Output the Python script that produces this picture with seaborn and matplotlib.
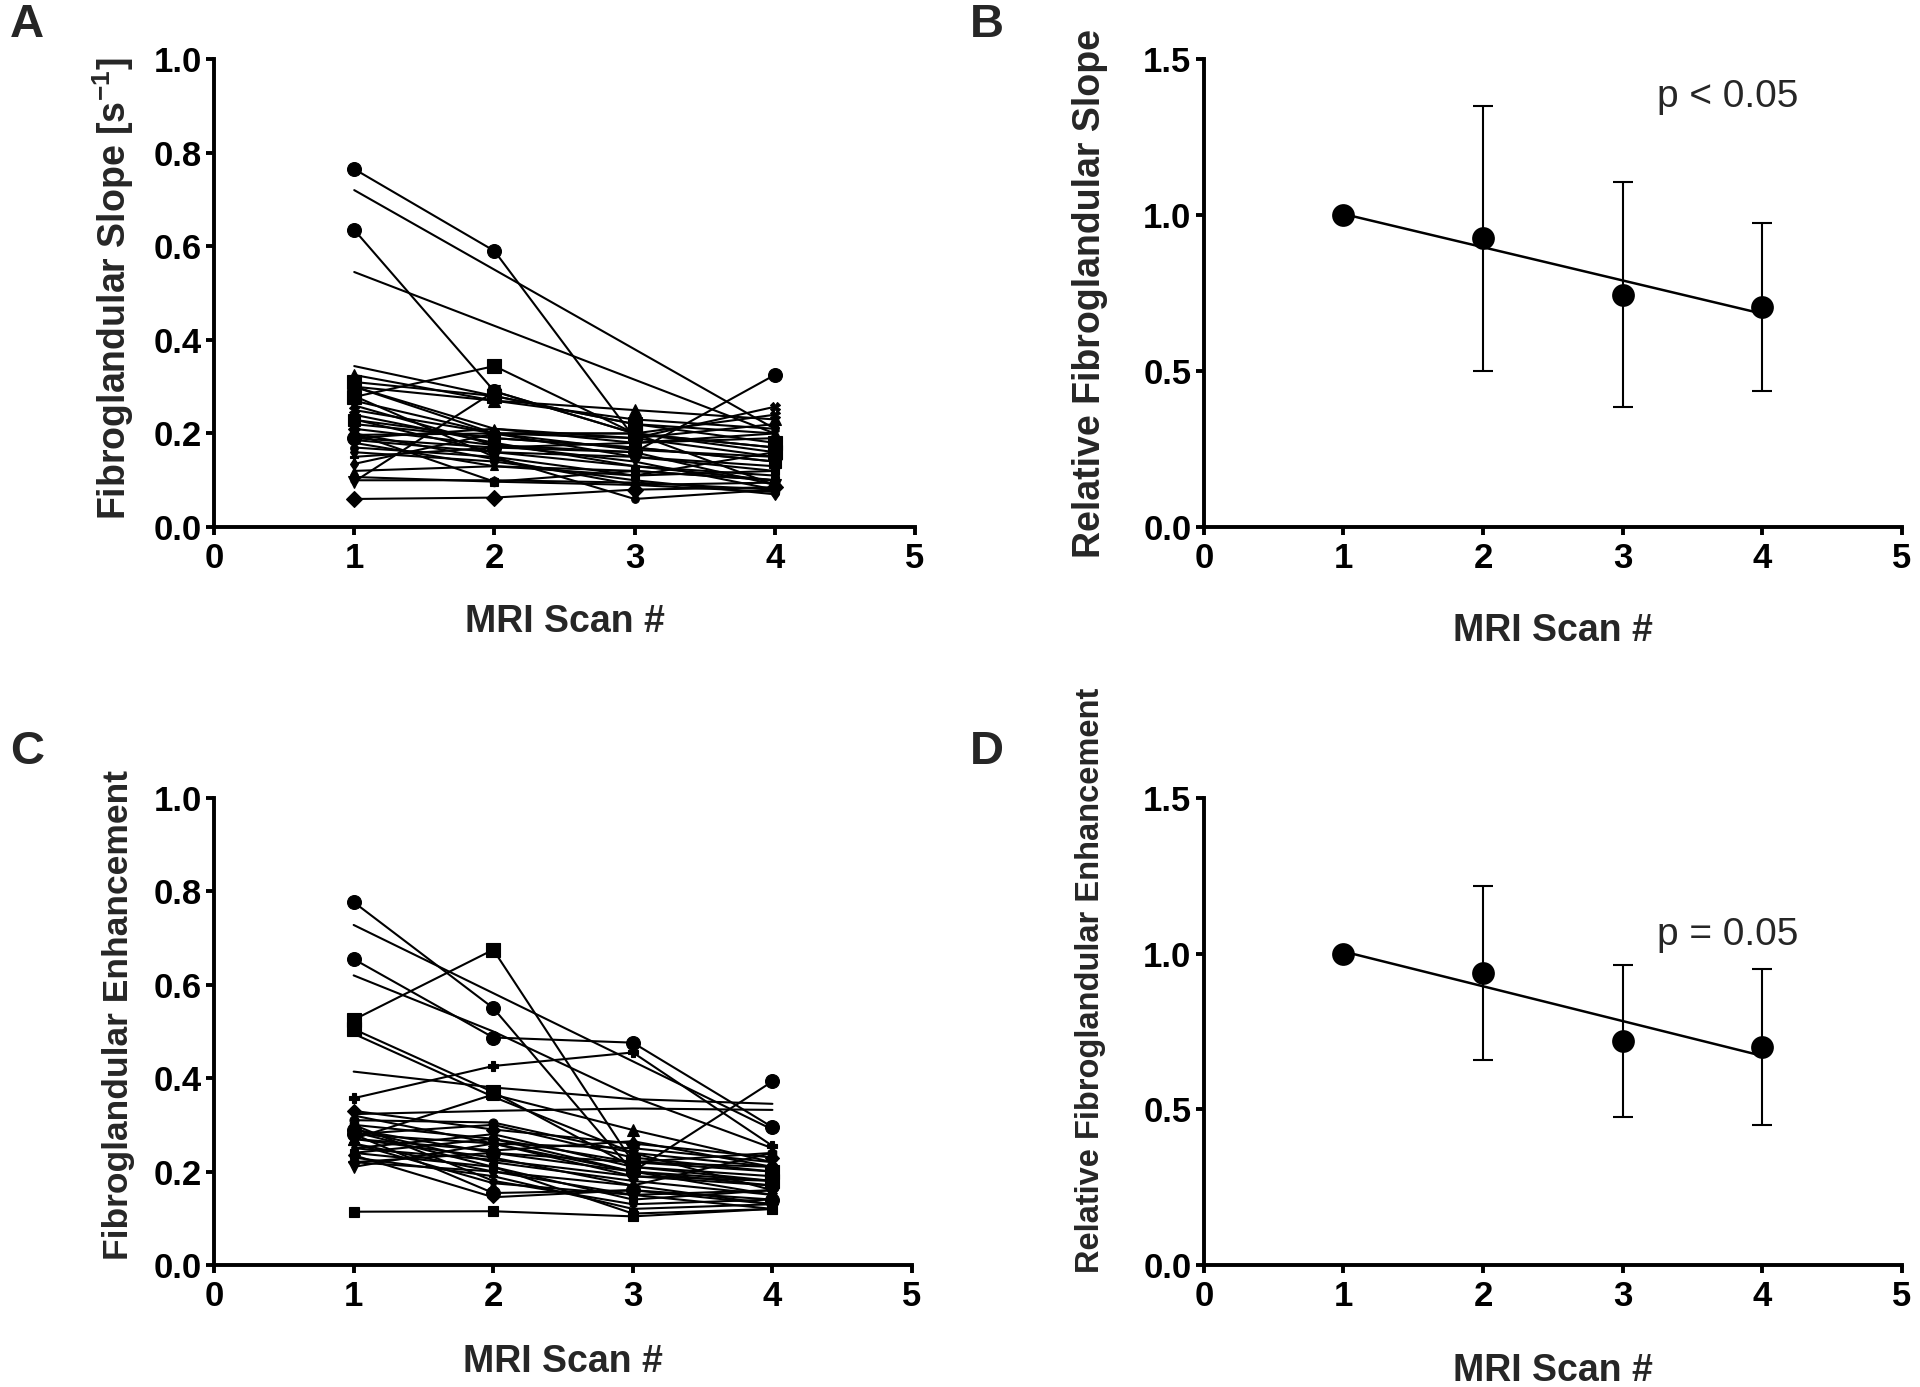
import numpy as np
import pandas as pd
import matplotlib
matplotlib.use("Agg")
import matplotlib.pyplot as plt
import seaborn as sns

nan = np.nan
scans = [1, 2, 3, 4]

# Panel A: fibroglandular slope per subject, one list per scan
slope_scan1 = [0.765, 0.72, 0.635, 0.545, 0.19, 0.31, 0.278, 0.229, 0.344, 0.325, 0.30, 0.097,
               0.06, 0.135, 0.107, 0.20, 0.197, 0.186, 0.25, 0.22, 0.24, 0.17, 0.21, 0.19,
               0.26, 0.30, 0.28, 0.16, 0.23, 0.18, 0.27, 0.20, 0.15, 0.12, 0.10, 0.30]
slope_scan2 = [0.59, nan, 0.29, nan, 0.17, 0.28, 0.344, 0.19, 0.28, 0.27, 0.21, 0.29,
               0.063, 0.20, 0.097, 0.097, 0.20, 0.16, 0.20, 0.19, 0.18, 0.15, 0.175, 0.21,
               0.175, 0.27, 0.15, 0.14, 0.16, 0.13, 0.20, 0.145, 0.17, 0.13, 0.10, 0.20]
slope_scan3 = [0.19, nan, 0.20, nan, 0.16, 0.22, 0.20, 0.17, 0.22, 0.25, 0.18, 0.20,
               0.08, 0.15, 0.09, 0.12, 0.20, 0.15, 0.19, 0.17, 0.13, 0.06, 0.16, 0.19,
               0.14, 0.23, 0.11, 0.10, 0.13, 0.12, 0.165, 0.09, 0.18, 0.11, 0.095, 0.20]
slope_scan4 = [0.15, 0.21, 0.17, 0.20, 0.325, 0.18, 0.16, 0.14, 0.20, 0.23, 0.20, 0.09,
               0.085, 0.12, 0.075, 0.10, 0.17, 0.13, 0.257, 0.14, 0.10, 0.08, 0.09, 0.22,
               0.08, 0.21, 0.12, 0.07, 0.11, 0.10, 0.15, 0.095, 0.19, 0.16, 0.08, 0.24]

# Panel C: fibroglandular enhancement per subject
enh_scan1 = [0.777, 0.728, 0.655, 0.62, 0.525, 0.505, 0.495, 0.414, 0.357, 0.323, 0.114, 0.29,
             0.27, 0.31, 0.28, 0.21, 0.33, 0.30, 0.29, 0.28, 0.27, 0.26, 0.25, 0.24,
             0.23, 0.22, 0.32, 0.30, 0.28, 0.26, 0.25, 0.24, 0.235, 0.285, 0.27, 0.22]
enh_scan2 = [0.55, nan, 0.487, 0.50, 0.675, 0.37, 0.36, 0.38, 0.426, 0.33, 0.115, 0.24,
             0.365, 0.305, 0.154, 0.26, 0.29, 0.27, 0.22, 0.26, 0.23, 0.20, 0.28, 0.21,
             0.19, 0.24, 0.26, 0.18, 0.30, 0.175, 0.225, 0.27, 0.145, 0.21, 0.245, 0.20]
enh_scan3 = [0.20, nan, 0.476, 0.36, 0.22, 0.21, 0.24, 0.355, 0.455, 0.335, 0.104, 0.20,
             0.289, 0.24, 0.16, 0.20, 0.26, 0.22, 0.18, 0.25, 0.17, 0.15, 0.21, 0.14,
             0.12, 0.22, 0.19, 0.13, 0.23, 0.15, 0.19, 0.20, 0.16, 0.11, 0.265, 0.17]
enh_scan4 = [0.17, 0.29, 0.295, 0.25, 0.20, 0.18, 0.16, 0.345, 0.255, 0.332, 0.12, 0.393,
             0.22, 0.21, 0.14, 0.18, 0.23, 0.24, 0.15, 0.22, 0.13, 0.12, 0.19, 0.16,
             0.13, 0.21, 0.17, 0.14, 0.20, 0.16, 0.18, 0.15, 0.13, 0.12, 0.21, 0.24]

# Panels B and D: group mean and SD relative to scan 1
rel_slope_mean = [1.0, 0.925, 0.745, 0.705]
rel_slope_sd = [0.0, 0.425, 0.36, 0.27]
rel_enh_mean = [1.0, 0.937, 0.72, 0.70]
rel_enh_sd = [0.0, 0.28, 0.245, 0.25]

sns.set_style("ticks")
plt.rcParams["font.family"] = ["Liberation Sans", "DejaVu Sans"]
plt.rcParams["font.weight"] = "bold"
plt.rcParams["mathtext.fontset"] = "custom"
plt.rcParams["mathtext.rm"] = "Liberation Sans:bold"
plt.rcParams["mathtext.bf"] = "Liberation Sans:bold"

# symbol cycle similar to GraphPad defaults
A_SYM = [("o", 10), ("", 0), ("o", 10), ("", 0), ("o", 10), ("s", 10), ("s", 10), ("s", 8),
         ("", 0), ("^", 8), ("^", 7), ("v", 8), ("D", 8), ("d", 6), ("o", 6), ("s", 6),
         ("h", 7), ("o", 7), ("X", 7), ("*", 8), ("P", 6), ("o", 5.5), ("D", 6), ("^", 6),
         ("v", 6), ("h", 6), ("s", 5.5), ("d", 6), (".", 7), (".", 6), ("*", 7), ("o", 6),
         ("P", 6), ("^", 5.5), ("h", 5.5), ("X", 7)]

C_SYM = [("o", 10), ("", 0), ("o", 10), ("", 0), ("s", 10), ("s", 10), ("", 0), ("", 0),
         ("P", 7), ("", 0), ("s", 6.5), ("o", 10), ("^", 9), ("o", 6.5), ("o", 10), ("v", 9),
         ("D", 7), ("h", 7), ("*", 8), ("X", 7), ("d", 6), (".", 7), ("^", 6), ("s", 5.5),
         ("P", 6), ("D", 6), ("v", 6), ("h", 5.5), ("o", 6), ("*", 7), (".", 6), ("X", 6),
         ("D", 6), ("s", 5.5), ("^", 8), ("d", 6)]

fig = plt.figure(figsize=(19.2, 13.87), dpi=100)
axA = fig.add_axes([0.1115, 0.620, 0.365, 0.3374])
axB = fig.add_axes([0.627, 0.620, 0.3635, 0.3374])
axC = fig.add_axes([0.1115, 0.088, 0.3635, 0.3367])
axD = fig.add_axes([0.627, 0.088, 0.3635, 0.3367])


def spaghetti(ax, cols, syms):
    df = pd.DataFrame({"s1": cols[0], "s2": cols[1], "s3": cols[2], "s4": cols[3]})
    for i, row in df.iterrows():
        d = pd.DataFrame({"scan": scans, "val": row.values}).dropna()
        m, ms = syms[i]
        sns.lineplot(data=d, x="scan", y="val", ax=ax, color="black", lw=1.5,
                     marker=m if m else None, markersize=ms, markeredgecolor="black",
                     markeredgewidth=0.8, sort=False)


def summary(ax, mean, sd):
    d = pd.DataFrame({"scan": scans, "mean": mean, "sd": sd})
    sns.regplot(data=d, x="scan", y="mean", ax=ax, ci=None, scatter=False,
                line_kws={"color": "black", "lw": 1.8})
    eb = d[d["sd"] > 0]
    ax.errorbar(eb["scan"], eb["mean"], yerr=eb["sd"], fmt="none", ecolor="black",
                elinewidth=1.5, capsize=7, capthick=1.5)
    sns.scatterplot(data=d, x="scan", y="mean", ax=ax, color="black", s=230,
                    edgecolor="black", zorder=5)


spaghetti(axA, [slope_scan1, slope_scan2, slope_scan3, slope_scan4], A_SYM)
spaghetti(axC, [enh_scan1, enh_scan2, enh_scan3, enh_scan4], C_SYM)
summary(axB, rel_slope_mean, rel_slope_sd)
summary(axD, rel_enh_mean, rel_enh_sd)

for ax in [axA, axC]:
    ax.set_ylim(0, 1.0)
    ax.set_yticks(np.arange(0, 1.01, 0.2))
    ax.set_yticklabels(["0.0", "0.2", "0.4", "0.6", "0.8", "1.0"])
for ax in [axB, axD]:
    ax.set_ylim(0, 1.5)
    ax.set_yticks([0, 0.5, 1.0, 1.5])
    ax.set_yticklabels(["0.0", "0.5", "1.0", "1.5"])

for ax in [axA, axB, axC, axD]:
    ax.set_xlim(0, 5)
    ax.set_xticks(range(6))
    ax.set_xticklabels([str(i) for i in range(6)])
    for s in ["top", "right"]:
        ax.spines[s].set_visible(False)
    for s in ["left", "bottom"]:
        ax.spines[s].set_linewidth(2.8)
        ax.spines[s].set_color("black")
    ax.tick_params(axis="both", width=2.8, length=6, labelsize=25, color="black",
                   labelcolor="black")
    ax.tick_params(axis="y", pad=3)
    ax.tick_params(axis="x", pad=5)
    for lab in ax.get_xticklabels() + ax.get_yticklabels():
        lab.set_fontweight("bold")
    ax.set_xlabel("MRI Scan #", fontsize=27, fontweight="bold")
    ax.patch.set_alpha(0)

axA.set_ylabel(r"Fibroglandular Slope [s$^{\mathbf{-1}}$]", fontsize=27, fontweight="bold")
axB.set_ylabel("Relative Fibroglandular Slope", fontsize=27, fontweight="bold")
axC.set_ylabel("Fibroglandular Enhancement", fontsize=25.5, fontweight="bold")
axD.set_ylabel("Relative Fibroglandular Enhancement", fontsize=23.5, fontweight="bold")

axA.yaxis.set_label_coords(-0.111, 0.51)
axB.yaxis.set_label_coords(-0.137, 0.5)
axC.yaxis.set_label_coords(-0.113, 0.535)
axD.yaxis.set_label_coords(-0.14, 0.61)
axA.xaxis.set_label_coords(0.5, -0.165)
axB.xaxis.set_label_coords(0.5, -0.184)
axC.xaxis.set_label_coords(0.5, -0.17)
axD.xaxis.set_label_coords(0.5, -0.189)

axB.text(3.245, 1.38, "p < 0.05", fontsize=28, fontweight="normal", ha="left", va="center")
axD.text(3.245, 1.06, "p = 0.05", fontsize=28, fontweight="normal", ha="left", va="center")

for lbl, x, y in [("A", 0.014, 0.982), ("B", 0.514, 0.982), ("C", 0.014, 0.458), ("D", 0.514, 0.458)]:
    fig.text(x, y, lbl, fontsize=34, fontweight="bold", ha="center", va="center")

fig.savefig("out.png", dpi=100)
